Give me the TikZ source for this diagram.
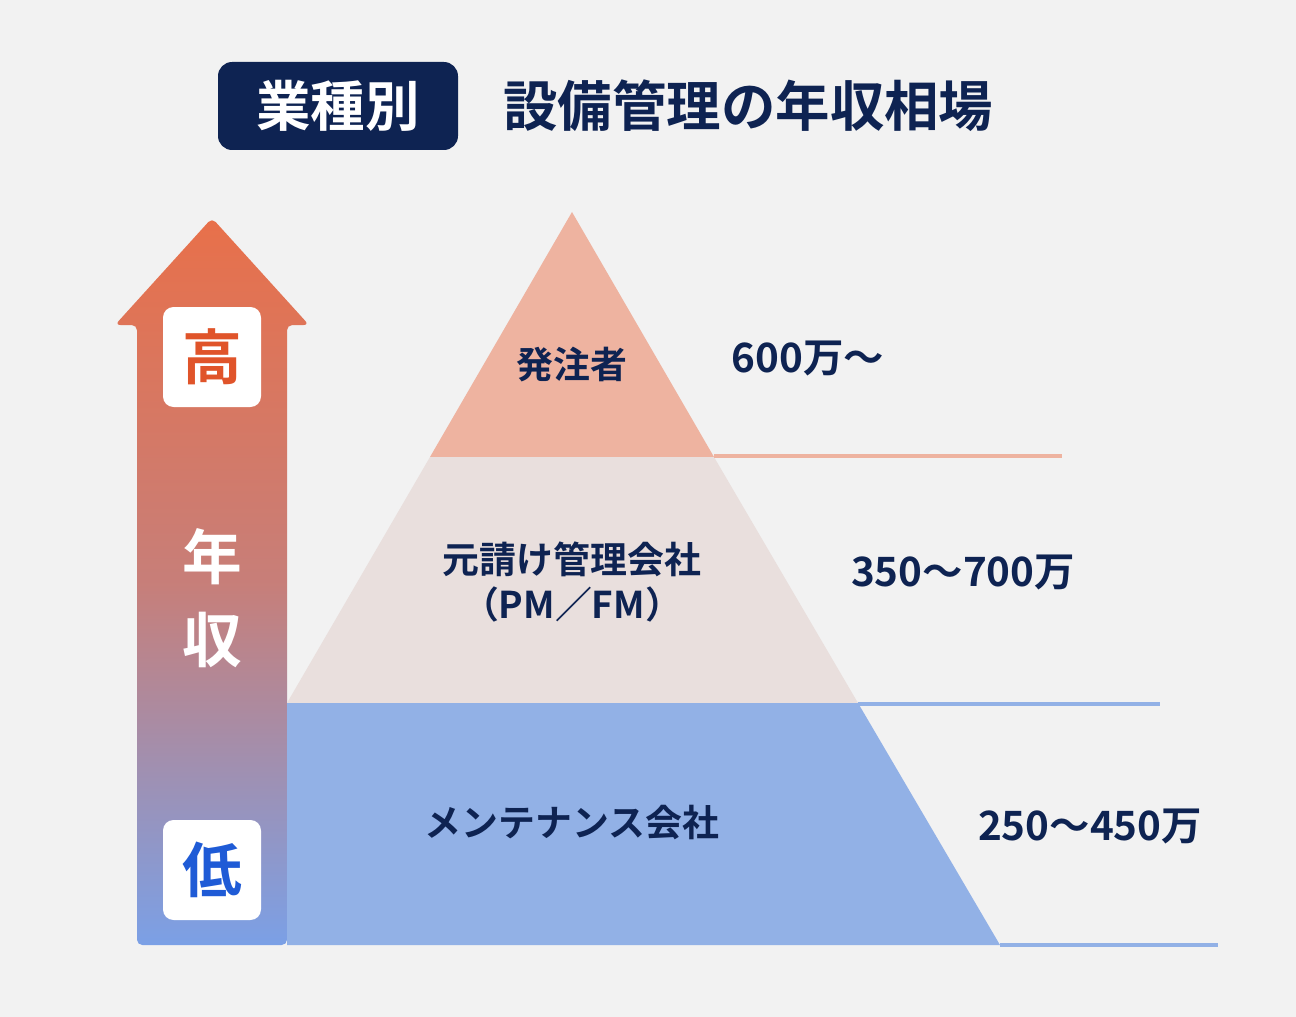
\documentclass[tikz,border=0pt]{standalone}
\usepackage{fontspec}
\setmainfont{Noto Sans CJK JP}[BoldFont={Noto Sans CJK JP Bold}]
\definecolor{bg}{HTML}{F2F2F2}
\definecolor{navy}{HTML}{0E2352}
\definecolor{topc}{HTML}{EEB3A0}
\definecolor{midc}{HTML}{E9DFDD}
\definecolor{lowc}{HTML}{92B1E6}
\definecolor{arrO}{HTML}{E8704A}
\definecolor{arrB}{HTML}{7BA0E6}
\definecolor{hiT}{HTML}{E0542A}
\definecolor{loT}{HTML}{1F5BD6}
\tikzset{lbl/.style={text=navy,font=\bfseries\fontsize{21}{26}\selectfont,align=center},
num/.style={text=navy,font=\bfseries\fontsize{23}{28}\selectfont},
wbox/.style={fill=white,rounded corners=6pt,minimum width=98*0.02cm,minimum height=100*0.02cm,font=\bfseries\fontsize{34}{40}\selectfont}}
\begin{document}
\begin{tikzpicture}[x=0.02cm,y=-0.02cm]
\fill[bg] (0,0) rectangle (1296,1017);
\useasboundingbox (0,0) rectangle (1296,1017);
\node[fill=navy,rounded corners=8pt,minimum width=240*0.02cm,minimum height=88*0.02cm,text=white,font=\bfseries\fontsize{31}{36}\selectfont] (badge) at (338,106) {業種別};
\node[text=navy,font=\bfseries\fontsize{31}{36}\selectfont,anchor=west] (title) at (497,106) {設備管理の年収相場};
% arrow
\shade[top color=arrO,bottom color=arrB,middle color=arrO!70!arrB,rounded corners=3pt] (137,945) -- (137,325) -- (115,325) -- (212,218) -- (309,325) -- (287,325) -- (287,945) -- cycle;
\node[wbox,text=hiT] (hi) at (212,357) {高};
\node[wbox,text=loT] (lo) at (212,870) {低};
\node[text=white,font=\bfseries\fontsize{34}{40}\selectfont] (nen) at (212,557) {年};
\node[text=white,font=\bfseries\fontsize{34}{40}\selectfont] (shu) at (212,640) {収};
% pyramid
\fill[topc] (572,212) -- (714,457) -- (430,457) -- cycle;
\fill[midc] (430,457) -- (714,457) -- (858,703) -- (287,703) -- cycle;
\fill[lowc] (287,703) -- (858,703) -- (1000,945) -- (287,945) -- cycle;
\coordinate (l1a) at (714,456); \coordinate (l1b) at (1062,456);
\coordinate (l2a) at (858,704); \coordinate (l2b) at (1160,704);
\coordinate (l3a) at (1000,945); \coordinate (l3b) at (1218,945);
\draw[topc,line width=2pt] (l1a) -- (l1b);
\draw[lowc,line width=2pt] (l2a) -- (l2b);
\draw[lowc,line width=2pt] (l3a) -- (l3b);
\node[lbl] (t1) at (572,365) {発注者};
\node[lbl] (t2) at (572,582) {元請け管理会社\\（PM／FM）};
\node[lbl] (t3) at (572,823) {メンテナンス会社};
\node[num] (n1) at (808,358) {600万〜};
\node[num] (n2) at (963,572) {350〜700万};
\node[num] (n3) at (1090,826) {250〜450万};
\end{tikzpicture}
\end{document}
